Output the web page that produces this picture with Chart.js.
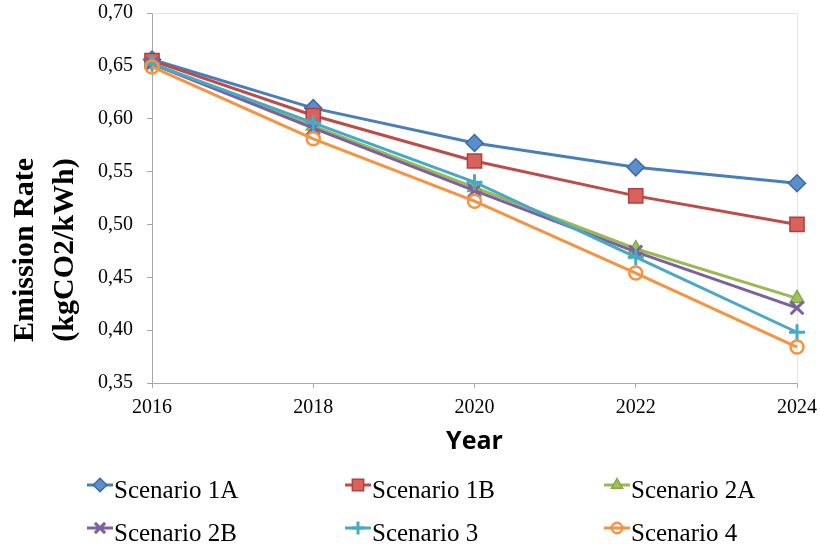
<!DOCTYPE html>
<html>
<head>
<meta charset="utf-8">
<script src="https://cdn.jsdelivr.net/npm/chart.js@4/dist/chart.umd.min.js"></script>
<style>
  html, body { margin: 0; padding: 0; background: #ffffff; }
  canvas { display: block; }
</style>
</head>
<body>
<canvas id="c" width="820" height="547"></canvas>
<script>
// Years on the horizontal axis
const years = ['2016', '2018', '2020', '2022', '2024'];

// Grid emission rate per scenario (kgCO2/kWh)
const scenario1A = [0.656, 0.610, 0.577, 0.554, 0.539];
const scenario1B = [0.655, 0.603, 0.560, 0.527, 0.500];
const scenario2A = [0.652, 0.593, 0.535, 0.477, 0.430];
const scenario2B = [0.652, 0.591, 0.532, 0.474, 0.421];
const scenario3  = [0.652, 0.596, 0.540, 0.469, 0.398];
const scenario4  = [0.649, 0.581, 0.522, 0.454, 0.384];

const seriesNames = ['Scenario 1A', 'Scenario 1B', 'Scenario 2A', 'Scenario 2B', 'Scenario 3', 'Scenario 4'];
const seriesValues = [scenario1A, scenario1B, scenario2A, scenario2B, scenario3, scenario4];

const yTitleLines = ['Emission Rate', '(kgCO2/kWh)'];
const xTitle = 'Year';

// Visual style of each series
const styles = [
  { line: '#4A7EBB', fill: '#5B8ECB', border: '#3C6BA6', point: 'rectRot',  radius: 8.5, bw: 1.5 },
  { line: '#BE4B48', fill: '#D9625E', border: '#B0403D', point: 'rect',     radius: 10,  bw: 1.5 },
  { line: '#98B954', fill: '#9FC15A', border: '#86A845', point: 'triangle', radius: 8,   bw: 1.5 },
  { line: '#7D60A0', fill: '#7D60A0', border: '#7D60A0', point: 'crossRot', radius: 9,   bw: 3   },
  { line: '#46AAC5', fill: '#46AAC5', border: '#46AAC5', point: 'cross',    radius: 8,   bw: 3   },
  { line: '#F69240', fill: 'rgba(255,255,255,0)', border: '#F69240', point: 'circle', radius: 6.5, bw: 2.5 }
];

const datasets = seriesNames.map((name, i) => ({
  label: name,
  data: seriesValues[i],
  borderColor: styles[i].line,
  borderWidth: 3,
  pointStyle: styles[i].point,
  pointRadius: styles[i].radius,
  pointHoverRadius: styles[i].radius,
  pointBackgroundColor: styles[i].fill,
  pointBorderColor: styles[i].border,
  pointBorderWidth: styles[i].bw,
  tension: 0,
  fill: false,
  order: seriesNames.length - i
}));

const serif = '"Liberation Serif", "Times New Roman", serif';

// Light frame on the top and right of the plot area
const framePlugin = {
  id: 'frame',
  beforeDatasetsDraw(chart) {
    const { ctx, chartArea: a } = chart;
    ctx.save();
    ctx.strokeStyle = '#e4e4e4';
    ctx.lineWidth = 1;
    ctx.beginPath();
    ctx.moveTo(Math.round(a.left) + 0.5, Math.round(a.top) + 0.5);
    ctx.lineTo(Math.round(a.right) + 0.5, Math.round(a.top) + 0.5);
    ctx.lineTo(Math.round(a.right) + 0.5, Math.round(a.bottom) + 0.5);
    ctx.stroke();
    ctx.restore();
  }
};

// Two-line rotated y-axis title
const yTitlePlugin = {
  id: 'yTitle',
  afterDraw(chart) {
    const { ctx } = chart;
    ctx.save();
    ctx.fillStyle = '#000000';
    ctx.font = 'bold 30px ' + serif;
    ctx.textAlign = 'center';
    ctx.textBaseline = 'alphabetic';
    const baselines = [33, 73];
    yTitleLines.forEach((txt, k) => {
      ctx.save();
      ctx.translate(baselines[k], 250);
      ctx.rotate(-Math.PI / 2);
      ctx.fillText(txt, 0, 0);
      ctx.restore();
    });
    ctx.restore();
  }
};

// Three-column legend with line + marker swatches
const legendPlugin = {
  id: 'gridLegend',
  afterDraw(chart) {
    const { ctx } = chart;
    const colX = [100, 358, 617];
    const rowY = [485, 528];
    const textBase = [498, 541];
    ctx.save();
    chart.data.datasets.forEach((ds, i) => {
      const col = i % 3, row = Math.floor(i / 3);
      const cx = colX[col], cy = rowY[row];
      const st = styles[i];
      ctx.strokeStyle = st.line;
      ctx.lineWidth = 3;
      ctx.beginPath();
      ctx.moveTo(cx - 13, cy);
      ctx.lineTo(cx + 13, cy);
      ctx.stroke();
      ctx.fillStyle = st.fill;
      ctx.strokeStyle = st.border;
      ctx.lineWidth = st.bw;
      Chart.helpers.drawPoint(ctx, {
        pointStyle: st.point,
        radius: st.radius * 0.8,
        rotation: 0,
        borderWidth: st.bw
      }, cx, cy);
      ctx.fillStyle = '#000000';
      ctx.font = '25px ' + serif;
      ctx.textAlign = 'left';
      ctx.textBaseline = 'alphabetic';
      ctx.fillText(ds.label, cx + 14, textBase[row]);
    });
    ctx.restore();
  }
};

new Chart(document.getElementById('c'), {
  type: 'line',
  data: { labels: years, datasets },
  options: {
    responsive: false,
    animation: false,
    devicePixelRatio: 1,
    layout: { padding: { left: 0, right: 23, top: 13, bottom: 86 } },
    plugins: {
      legend: { display: false },
      tooltip: { enabled: false },
      title: { display: false }
    },
    scales: {
      x: {
        type: 'category',
        offset: false,
        border: { display: true, color: '#a8a8a8', width: 1 },
        grid: { display: true, drawOnChartArea: false, drawTicks: true, tickLength: 5, color: '#a8a8a8' },
        ticks: {
          color: '#000000',
          font: { family: serif, size: 20 },
          padding: 8,
          maxRotation: 0,
          autoSkip: false
        },
        title: {
          display: true,
          text: xTitle,
          color: '#000000',
          font: { family: '"Open Sans", "DejaVu Sans", sans-serif', size: 25, weight: 'bold' },
          padding: { top: 0, bottom: 4 }
        },
        afterFit(scale) {
          scale.height = 78;
          scale.paddingLeft = 0;
          scale.paddingRight = 0;
        }
      },
      y: {
        min: 0.35,
        max: 0.70,
        border: { display: true, color: '#a8a8a8', width: 1 },
        grid: { display: true, drawOnChartArea: false, drawTicks: true, tickLength: 5, color: '#a8a8a8' },
        ticks: {
          stepSize: 0.05,
          color: '#000000',
          font: { family: serif, size: 20 },
          padding: 14,
          callback: (v) => v.toFixed(2).replace('.', ',')
        },
        afterFit(scale) {
          scale.width = 152;
          scale.paddingTop = 0;
          scale.paddingBottom = 0;
        }
      }
    }
  },
  plugins: [framePlugin, yTitlePlugin, legendPlugin]
});
</script>
</body>
</html>
